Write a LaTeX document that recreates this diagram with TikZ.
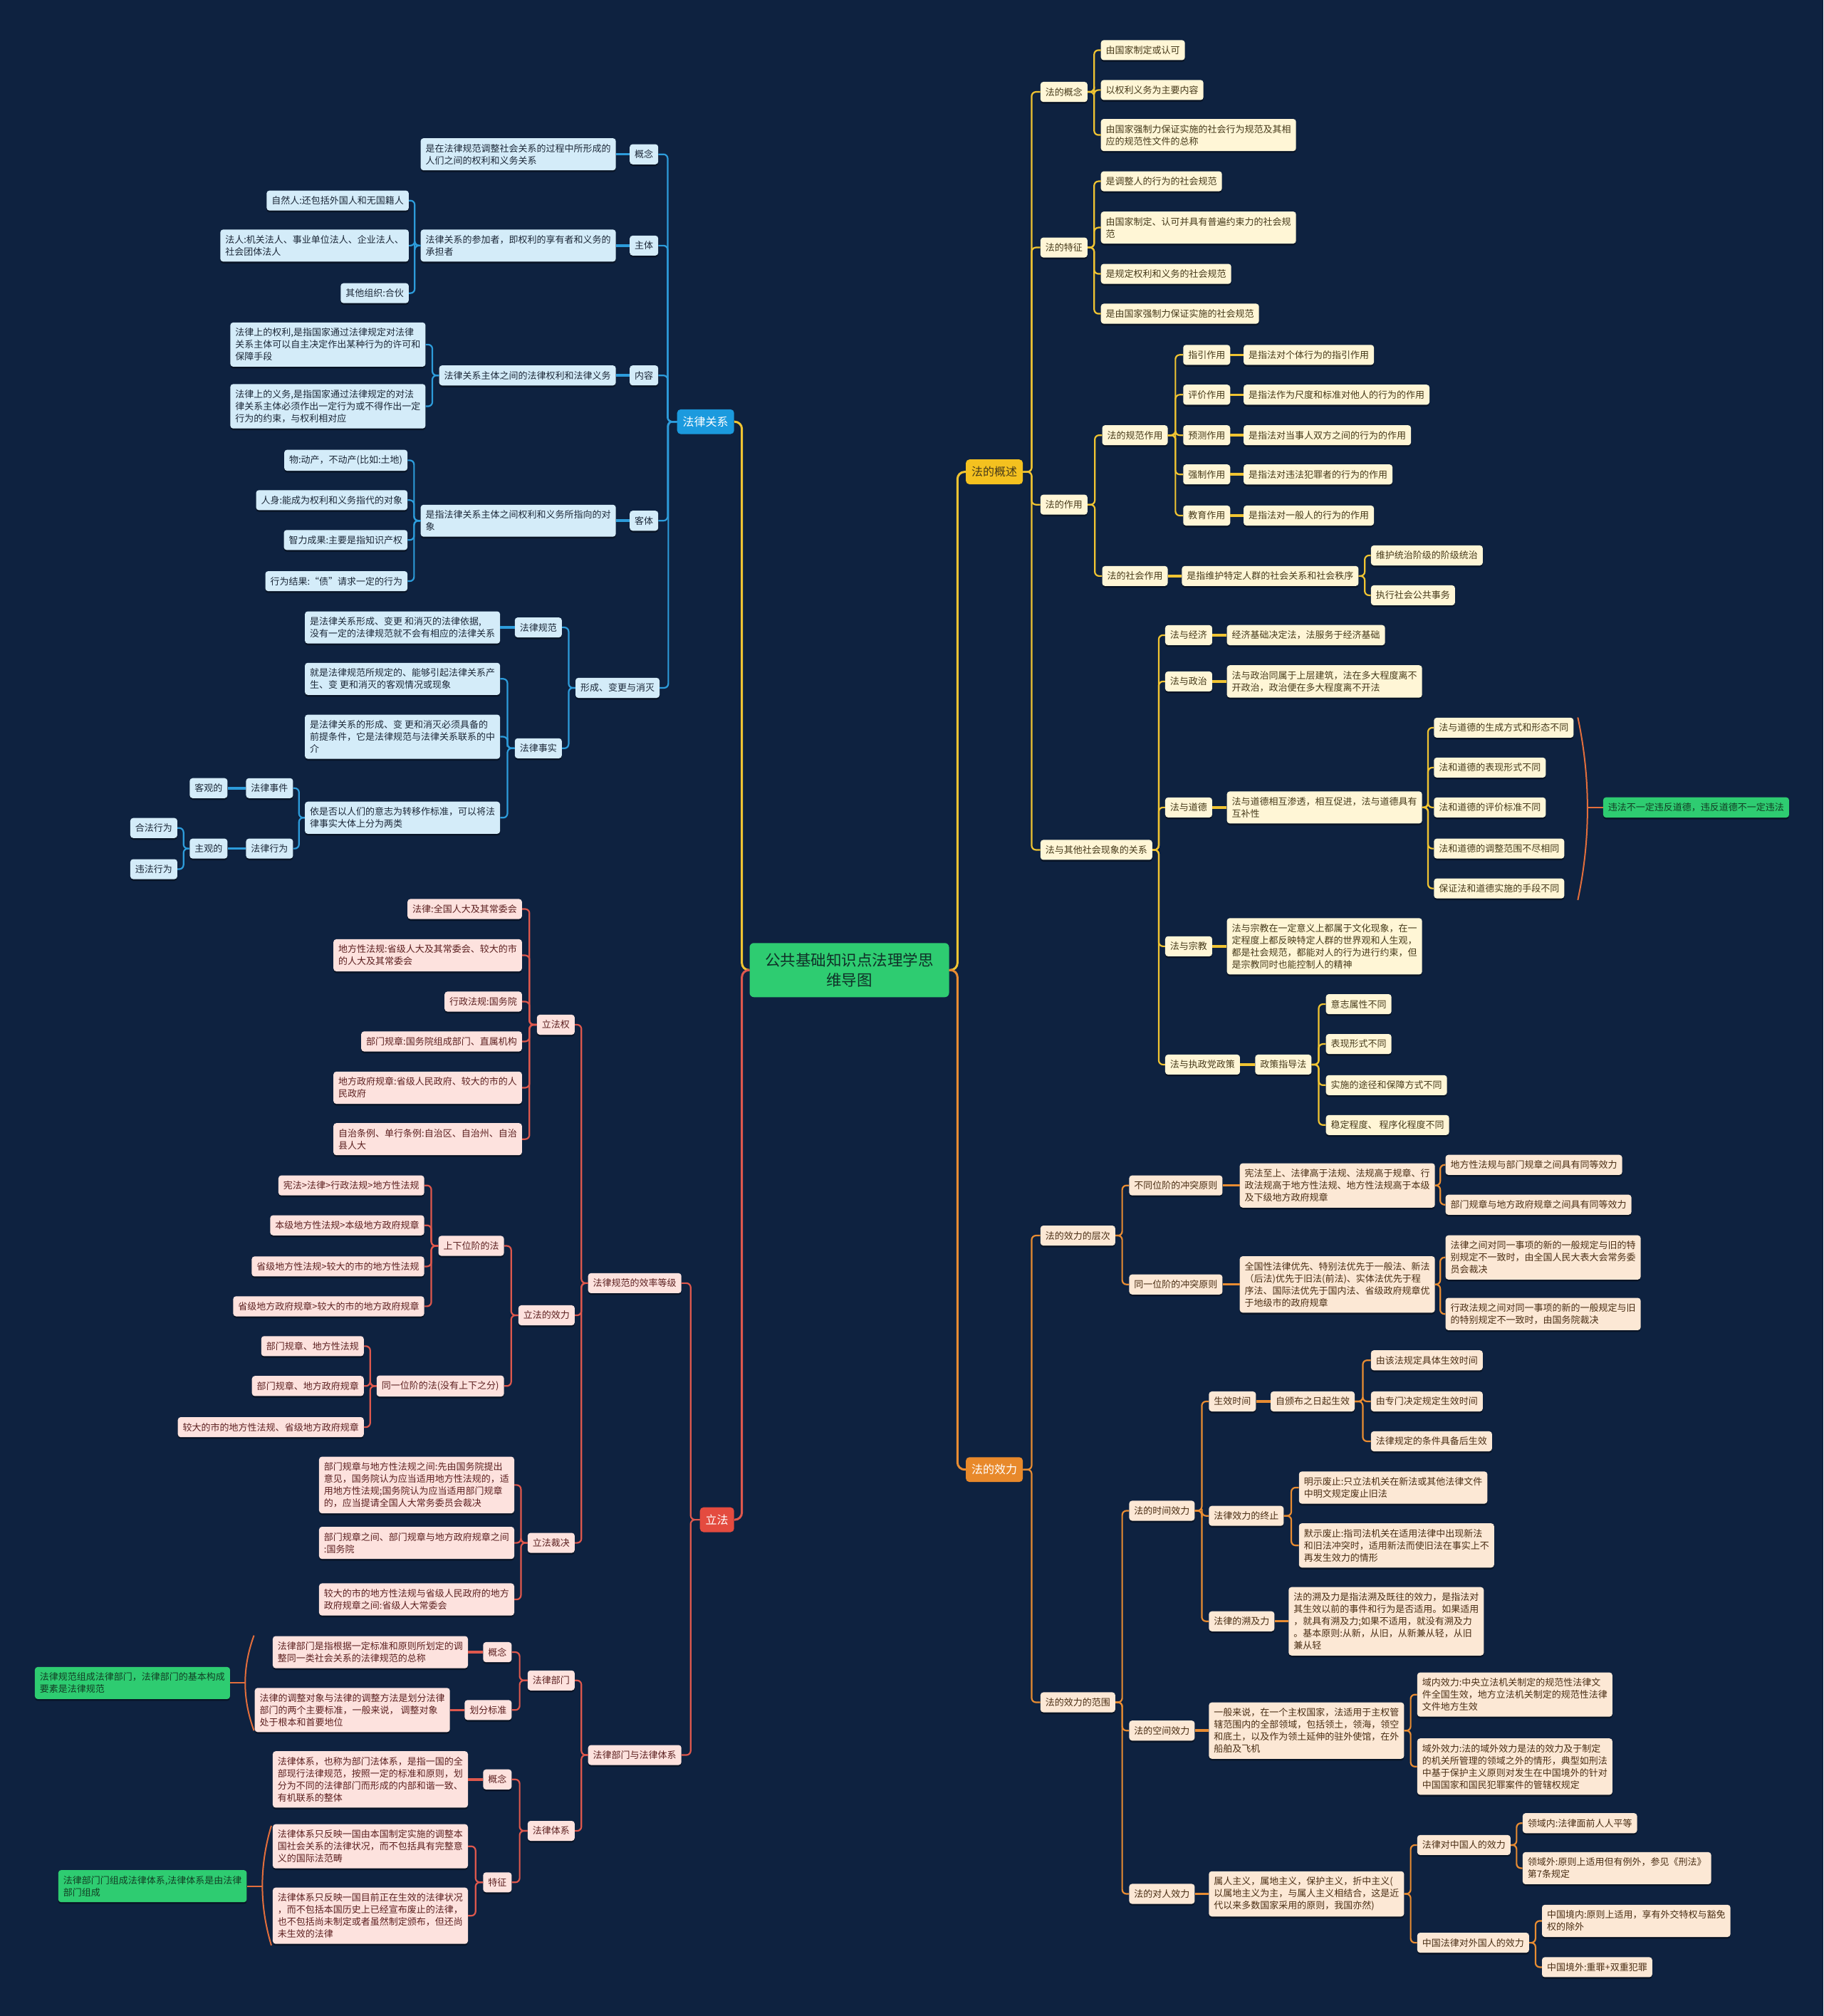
\documentclass[tikz,border=0pt]{standalone}
\usepackage{fontspec}
\setmainfont{Noto Sans CJK SC}
\usetikzlibrary{calc,shadows}

\definecolor{navy}{RGB}{14,34,64}
\definecolor{rootfill}{RGB}{46,204,113}
\definecolor{roottext}{RGB}{16,48,40}
\definecolor{bluemain}{RGB}{27,154,222}
\definecolor{blueline}{RGB}{45,156,219}
\definecolor{bluefill}{RGB}{212,236,249}
\definecolor{bluetext}{RGB}{28,40,56}
\definecolor{goldmain}{RGB}{244,193,31}
\definecolor{goldline}{RGB}{240,196,50}
\definecolor{goldfill}{RGB}{255,246,214}
\definecolor{goldtext}{RGB}{70,58,26}
\definecolor{redmain}{RGB}{228,75,63}
\definecolor{redline}{RGB}{222,88,77}
\definecolor{redfill}{RGB}{253,226,222}
\definecolor{redtext}{RGB}{92,32,32}
\definecolor{orgmain}{RGB}{232,137,43}
\definecolor{orgline}{RGB}{232,140,50}
\definecolor{orgfill}{RGB}{252,232,213}
\definecolor{orgtext}{RGB}{74,46,20}
\definecolor{notetext}{RGB}{18,62,36}
\definecolor{arcline}{RGB}{226,110,60}

\tikzset{
  box/.style={rounded corners=4pt, inner xsep=7pt, inner ysep=8pt, align=left,
    font=\fontsize{13pt}{17pt}\selectfont,
    drop shadow={shadow xshift=0pt, shadow yshift=-2.5pt, fill=black, opacity=.4}},
  bbox/.style={box, fill=bluefill, text=bluetext},
  ybox/.style={box, fill=goldfill, text=goldtext},
  rbox/.style={box, fill=redfill, text=redtext},
  obox/.style={box, fill=orgfill, text=orgtext},
  note/.style={box, fill=rootfill, text=notetext},
  branch/.style={rounded corners=5pt, inner xsep=8pt, inner ysep=10pt,
    font=\fontsize{16pt}{20pt}\selectfont},
  root/.style={rounded corners=6pt, fill=rootfill, text=roottext, align=center,
    minimum width=280pt, inner ysep=14pt, font=\fontsize{21.5pt}{28pt}\selectfont},
  fork/.style={to path={(\tikztostart) -| ($(\tikztostart)!.5!(\tikztotarget)$) |- (\tikztotarget)}},
  trunk/.style={line width=3pt, rounded corners=10pt},
  wire/.style={line width=2.2pt, rounded corners=6pt},
  stub/.style={line width=3.5pt},
  summary/.style={arcline, line width=2pt}
}

\begin{document}
\begin{tikzpicture}[x=1.8054pt, y=-1.8054pt]
  \useasboundingbox (0,0) rectangle (1418,1568);
  \fill[navy] (0,0) rectangle (1418,1568);

  % centre and the four branches
  \node[root] (root) at (660.5,754.5) {公共基础知识点法理学思\\维导图};
  \node[branch, fill=goldmain, text=goldtext, anchor=west] (gaishu) at (751,367) {法的概述};
  \node[branch, fill=orgmain, text=white, anchor=west] (xiaoli) at (751,1143) {法的效力};
  \node[branch, fill=bluemain, text=white, anchor=east] (guanxi) at (571,328) {法律关系};
  \node[branch, fill=redmain, text=white, anchor=east] (lifa) at (571,1182) {立法};

  % ---------- 法的概述 ----------
  \node[ybox, anchor=west] (gn) at (809,71.5) {法的概念};
  \node[ybox, anchor=west] (gn1) at (856,39) {由国家制定或认可};
  \node[ybox, anchor=west] (gn2) at (856,70) {以权利义务为主要内容};
  \node[ybox, anchor=west] (gn3) at (856,105) {由国家强制力保证实施的社会行为规范及其相\\应的规范性文件的总称};
  \node[ybox, anchor=west] (tz) at (809,192.5) {法的特征};
  \node[ybox, anchor=west] (tz1) at (856,141) {是调整人的行为的社会规范};
  \node[ybox, anchor=west] (tz2) at (856,177) {由国家制定、认可并具有普遍约束力的社会规\\范};
  \node[ybox, anchor=west] (tz3) at (856,213) {是规定权利和义务的社会规范};
  \node[ybox, anchor=west] (tz4) at (856,244) {是由国家强制力保证实施的社会规范};
  \node[ybox, anchor=west] (zy) at (809,392.5) {法的作用};
  \node[ybox, anchor=west] (gf) at (857,338.5) {法的规范作用};
  \node[ybox, anchor=west] (gf1) at (920,276) {指引作用};
  \node[ybox, anchor=west] (gf2) at (920,307) {评价作用};
  \node[ybox, anchor=west] (gf3) at (920,338.5) {预测作用};
  \node[ybox, anchor=west] (gf4) at (920,369) {强制作用};
  \node[ybox, anchor=west] (gf5) at (920,401) {教育作用};
  \node[ybox, anchor=west] (gf1d) at (967,276) {是指法对个体行为的指引作用};
  \node[ybox, anchor=west] (gf2d) at (967,307) {是指法作为尺度和标准对他人的行为的作用};
  \node[ybox, anchor=west] (gf3d) at (967,338.5) {是指法对当事人双方之间的行为的作用};
  \node[ybox, anchor=west] (gf4d) at (967,369) {是指法对违法犯罪者的行为的作用};
  \node[ybox, anchor=west] (gf5d) at (967,401) {是指法对一般人的行为的作用};
  \node[ybox, anchor=west] (sh) at (857,448) {法的社会作用};
  \node[ybox, anchor=west] (shd) at (919,448) {是指维护特定人群的社会关系和社会秩序};
  \node[ybox, anchor=west] (sh1) at (1066,432) {维护统治阶级的阶级统治};
  \node[ybox, anchor=west] (sh2) at (1066,463) {执行社会公共事务};
  \node[ybox, anchor=west] (qt) at (809,661) {法与其他社会现象的关系};
  \node[ybox, anchor=west] (jj) at (906,494) {法与经济};
  \node[ybox, anchor=west] (jjd) at (954,494) {经济基础决定法，法服务于经济基础};
  \node[ybox, anchor=west] (zz) at (906,530) {法与政治};
  \node[ybox, anchor=west] (zzd) at (954,530) {法与政治同属于上层建筑，法在多大程度离不\\开政治，政治便在多大程度离不开法};
  \node[ybox, anchor=west] (dd) at (906,628) {法与道德};
  \node[ybox, anchor=west] (ddd) at (954,628) {法与道德相互渗透，相互促进，法与道德具有\\互补性};
  \node[ybox, anchor=west] (dd1) at (1115,566) {法与道德的生成方式和形态不同};
  \node[ybox, anchor=west] (dd2) at (1115,597) {法和道德的表现形式不同};
  \node[ybox, anchor=west] (dd3) at (1115,628) {法和道德的评价标准不同};
  \node[ybox, anchor=west] (dd4) at (1115,660) {法和道德的调整范围不尽相同};
  \node[ybox, anchor=west] (dd5) at (1115,691) {保证法和道德实施的手段不同};
  \node[note, anchor=west] (ddn) at (1246.6,628) {违法不一定违反道德，违反道德不一定违法};
  \node[ybox, anchor=west] (zj) at (906,736) {法与宗教};
  \node[ybox, anchor=west] (zjd) at (954,736) {法与宗教在一定意义上都属于文化现象，在一\\定程度上都反映特定人群的世界观和人生观，\\都是社会规范，都能对人的行为进行约束，但\\是宗教同时也能控制人的精神};
  \node[ybox, anchor=west] (zc) at (906,828) {法与执政党政策};
  \node[ybox, anchor=west] (zcd) at (976,828) {政策指导法};
  \node[ybox, anchor=west] (zc1) at (1031,781) {意志属性不同};
  \node[ybox, anchor=west] (zc2) at (1031,812) {表现形式不同};
  \node[ybox, anchor=west] (zc3) at (1031,844) {实施的途径和保障方式不同};
  \node[ybox, anchor=west] (zc4) at (1031,875) {稳定程度、 程序化程度不同};

  % ---------- 法的效力 ----------
  \node[obox, anchor=west] (cc) at (809,961) {法的效力的层次};
  \node[obox, anchor=west] (bt) at (878,922) {不同位阶的冲突原则};
  \node[obox, anchor=west] (btd) at (964,922) {宪法至上、法律高于法规、法规高于规章、行\\政法规高于地方性法规、地方性法规高于本级\\及下级地方政府规章};
  \node[obox, anchor=west] (bt1) at (1124,906) {地方性法规与部门规章之间具有同等效力};
  \node[obox, anchor=west] (bt2) at (1124,937) {部门规章与地方政府规章之间具有同等效力};
  \node[obox, anchor=west] (ty) at (878,999) {同一位阶的冲突原则};
  \node[obox, anchor=west] (tyd) at (964,999) {全国性法律优先、特别法优先于一般法、新法\\（后法)优先于旧法(前法)、实体法优先于程\\序法、国际法优先于国内法、省级政府规章优\\于地级市的政府规章};
  \node[obox, anchor=west] (ty1) at (1124,978) {法律之间对同一事项的新的一般规定与旧的特\\别规定不一致时，由全国人民大表大会常务委\\员会裁决};
  \node[obox, anchor=west] (ty2) at (1124,1022) {行政法规之间对同一事项的新的一般规定与旧\\的特别规定不一致时，由国务院裁决};
  \node[obox, anchor=west] (fw) at (809,1324) {法的效力的范围};
  \node[obox, anchor=west] (sj) at (878,1175) {法的时间效力};
  \node[obox, anchor=west] (sx) at (940,1090) {生效时间};
  \node[obox, anchor=west] (sxd) at (988,1090) {自颁布之日起生效};
  \node[obox, anchor=west] (sx1) at (1066,1058) {由该法规定具体生效时间};
  \node[obox, anchor=west] (sx2) at (1066,1090) {由专门决定规定生效时间};
  \node[obox, anchor=west] (sx3) at (1066,1121) {法律规定的条件具备后生效};
  \node[obox, anchor=west] (zh) at (940,1179) {法律效力的终止};
  \node[obox, anchor=west] (zh1) at (1010,1157) {明示废止:只立法机关在新法或其他法律文件\\中明文规定废止旧法};
  \node[obox, anchor=west] (zh2) at (1010,1202) {默示废止:指司法机关在适用法律中出现新法\\和旧法冲突时，适用新法而使旧法在事实上不\\再发生效力的情形};
  \node[obox, anchor=west] (sq) at (940,1261) {法律的溯及力};
  \node[obox, anchor=west] (sqd) at (1002,1261) {法的溯及力是指法溯及既往的效力，是指法对\\其生效以前的事件和行为是否适用。如果适用\\，就具有溯及力;如果不适用，就没有溯及力\\。基本原则:从新，从旧，从新兼从轻，从旧\\兼从轻};
  \node[obox, anchor=west] (kj) at (878,1346) {法的空间效力};
  \node[obox, anchor=west] (kjd) at (940,1346) {一般来说，在一个主权国家，法适用于主权管\\辖范围内的全部领域，包括领土，领海，领空\\和底土，以及作为领土延伸的驻外使馆，在外\\船舶及飞机};
  \node[obox, anchor=west] (kj1) at (1102,1318) {域内效力:中央立法机关制定的规范性法律文\\件全国生效，地方立法机关制定的规范性法律\\文件地方生效};
  \node[obox, anchor=west] (kj2) at (1102,1374) {域外效力:法的域外效力是法的效力及于制定\\的机关所管理的领域之外的情形，典型如刑法\\中基于保护主义原则对发生在中国境外的针对\\中国国家和国民犯罪案件的管辖权规定};
  \node[obox, anchor=west] (dr) at (878,1473) {法的对人效力};
  \node[obox, anchor=west] (drd) at (940,1473) {属人主义，属地主义，保护主义，折中主义(\\以属地主义为主，与属人主义相结合，这是近\\代以来多数国家采用的原则，我国亦然)};
  \node[obox, anchor=west] (zg) at (1102,1435) {法律对中国人的效力};
  \node[obox, anchor=west] (zg1) at (1184,1418) {领域内:法律面前人人平等};
  \node[obox, anchor=west] (zg2) at (1184,1453) {领域外:原则上适用但有例外，参见《刑法》\\第7条规定};
  \node[obox, anchor=west] (wg) at (1102,1511) {中国法律对外国人的效力};
  \node[obox, anchor=west] (wg1) at (1199,1494) {中国境内:原则上适用，享有外交特权与豁免\\权的除外};
  \node[obox, anchor=west] (wg2) at (1199,1530) {中国境外:重罪+双重犯罪};

  % ---------- 法律关系 ----------
  \node[bbox, anchor=east] (gnb) at (512,120) {概念};
  \node[bbox, anchor=east] (gnbd) at (479,120) {是在法律规范调整社会关系的过程中所形成的\\人们之间的权利和义务关系};
  \node[bbox, anchor=east] (zt) at (512,191) {主体};
  \node[bbox, anchor=east] (ztd) at (479,191) {法律关系的参加者，即权利的享有者和义务的\\承担者};
  \node[bbox, anchor=east] (zt1) at (318,156) {自然人:还包括外国人和无国籍人};
  \node[bbox, anchor=east] (zt2) at (318,191) {法人:机关法人、事业单位法人、企业法人、\\社会团体法人};
  \node[bbox, anchor=east] (zt3) at (318,228) {其他组织:合伙};
  \node[bbox, anchor=east] (nr) at (512,292) {内容};
  \node[bbox, anchor=east] (nrd) at (479,292) {法律关系主体之间的法律权利和法律义务};
  \node[bbox, anchor=east] (nr1) at (331,268) {法律上的权利,是指国家通过法律规定对法律\\关系主体可以自主决定作出某种行为的许可和\\保障手段};
  \node[bbox, anchor=east] (nr2) at (331,316) {法律上的义务,是指国家通过法律规定的对法\\律关系主体必须作出一定行为或不得作出一定\\行为的约束，与权利相对应};
  \node[bbox, anchor=east] (kt) at (512,405) {客体};
  \node[bbox, anchor=east] (ktd) at (479,405) {是指法律关系主体之间权利和义务所指向的对\\象};
  \node[bbox, anchor=east] (kt1) at (317,358) {物:动产，不动产(比如:土地)};
  \node[bbox, anchor=east] (kt2) at (317,389) {人身:能成为权利和义务指代的对象};
  \node[bbox, anchor=east] (kt3) at (317,420) {智力成果:主要是指知识产权};
  \node[bbox, anchor=east] (kt4) at (317,452) {行为结果:“债”请求一定的行为};
  \node[bbox, anchor=east] (xc) at (513,535) {形成、变更与消灭};
  \node[bbox, anchor=east] (gz) at (437,488) {法律规范};
  \node[bbox, anchor=east] (gzd) at (389,488) {是法律关系形成、变更 和消灭的法律依据,\\没有一定的法律规范就不会有相应的法律关系};
  \node[bbox, anchor=east] (ss) at (437,582) {法律事实};
  \node[bbox, anchor=east] (ss1) at (389,528) {就是法律规范所规定的、能够引起法律关系产\\生、变 更和消灭的客观情况或现象};
  \node[bbox, anchor=east] (ss2) at (389,573) {是法律关系的形成、变 更和消灭必须具备的\\前提条件，它是法律规范与法律关系联系的中\\介};
  \node[bbox, anchor=east] (ss3) at (389,636) {依是否以人们的意志为转移作标准，可以将法\\律事实大体上分为两类};
  \node[bbox, anchor=east] (sjian) at (228,613) {法律事件};
  \node[bbox, anchor=east] (kg) at (177,613) {客观的};
  \node[bbox, anchor=east] (xw) at (228,660) {法律行为};
  \node[bbox, anchor=east] (zg0) at (177,660) {主观的};
  \node[bbox, anchor=east] (hf) at (138,644) {合法行为};
  \node[bbox, anchor=east] (wf) at (138,676) {违法行为};

  % ---------- 立法 ----------
  \node[rbox, anchor=east] (dj) at (530,998) {法律规范的效率等级};
  \node[rbox, anchor=east] (lq) at (447,797) {立法权};
  \node[rbox, anchor=east] (lq1) at (406,707) {法律:全国人大及其常委会};
  \node[rbox, anchor=east] (lq2) at (406,743) {地方性法规:省级人大及其常委会、较大的市\\的人大及其常委会};
  \node[rbox, anchor=east] (lq3) at (406,779) {行政法规:国务院};
  \node[rbox, anchor=east] (lq4) at (406,810) {部门规章:国务院组成部门、直属机构};
  \node[rbox, anchor=east] (lq5) at (406,846) {地方政府规章:省级人民政府、较大的市的人\\民政府};
  \node[rbox, anchor=east] (lq6) at (406,886) {自治条例、单行条例:自治区、自治州、自治\\县人大};
  \node[rbox, anchor=east] (lx) at (447,1023) {立法的效力};
  \node[rbox, anchor=east] (sxw) at (392,969) {上下位阶的法};
  \node[rbox, anchor=east] (sxw1) at (330,922) {宪法>法律>行政法规>地方性法规};
  \node[rbox, anchor=east] (sxw2) at (330,953) {本级地方性法规>本级地方政府规章};
  \node[rbox, anchor=east] (sxw3) at (330,985) {省级地方性法规>较大的市的地方性法规};
  \node[rbox, anchor=east] (sxw4) at (330,1016) {省级地方政府规章>较大的市的地方政府规章};
  \node[rbox, anchor=east] (tyw) at (392,1078) {同一位阶的法(没有上下之分)};
  \node[rbox, anchor=east] (tyw1) at (283,1047) {部门规章、地方性法规};
  \node[rbox, anchor=east] (tyw2) at (283,1078) {部门规章、地方政府规章};
  \node[rbox, anchor=east] (tyw3) at (283,1110) {较大的市的地方性法规、省级地方政府规章};
  \node[rbox, anchor=east] (cj) at (447,1200) {立法裁决};
  \node[rbox, anchor=east] (cj1) at (400,1155) {部门规章与地方性法规之间:先由国务院提出\\意见，国务院认为应当适用地方性法规的，适\\用地方性法规;国务院认为应当适用部门规章\\的，应当提请全国人大常务委员会裁决};
  \node[rbox, anchor=east] (cj2) at (400,1200) {部门规章之间、部门规章与地方政府规章之间\\:国务院};
  \node[rbox, anchor=east] (cj3) at (400,1244) {较大的市的地方性法规与省级人民政府的地方\\政府规章之间:省级人大常委会};
  \node[rbox, anchor=east] (ti) at (530,1365) {法律部门与法律体系};
  \node[rbox, anchor=east] (bm) at (447,1307) {法律部门};
  \node[rbox, anchor=east] (bmg) at (398,1285) {概念};
  \node[rbox, anchor=east] (bmgd) at (364,1285) {法律部门是指根据一定标准和原则所划定的调\\整同一类社会关系的法律规范的总称};
  \node[rbox, anchor=east] (bmh) at (398,1330) {划分标准};
  \node[rbox, anchor=east] (bmhd) at (350,1330) {法律的调整对象与法律的调整方法是划分法律\\部门的两个主要标准，一般来说， 调整对象\\处于根本和首要地位};
  \node[note, anchor=east] (bmn) at (179,1309) {法律规范组成法律部门，法律部门的基本构成\\要素是法律规范};
  \node[rbox, anchor=east] (tx) at (447,1424) {法律体系};
  \node[rbox, anchor=east] (txg) at (398,1384) {概念};
  \node[rbox, anchor=east] (txgd) at (364,1384) {法律体系，也称为部门法体系，是指一国的全\\部现行法律规范，按照一定的标准和原则，划\\分为不同的法律部门而形成的内部和谐一致、\\ 有机联系的整体};
  \node[rbox, anchor=east] (txt) at (398,1464) {特征};
  \node[rbox, anchor=east] (txt1) at (364,1436) {法律体系只反映一国由本国制定实施的调整本\\国社会关系的法律状况，而不包括具有完整意\\义的国际法范畴};
  \node[rbox, anchor=east] (txt2) at (364,1490) {法律体系只反映一国目前正在生效的法律状况\\，而不包括本国历史上已经宣布废止的法律，\\也不包括尚未制定或者虽然制定颁布，但还尚\\未生效的法律};
  \node[note, anchor=east] (txn) at (192,1467) {法律部门门组成法律体系,法律体系是由法律\\部门组成};

  % trunk
  \draw[trunk, goldline, fork] (root.east) to (gaishu.west);
  \draw[trunk, orgline, fork] (root.east) to (xiaoli.west);
  \draw[trunk, goldline, fork] (root.west) to (guanxi.east);
  \draw[trunk, redline, fork] (root.west) to (lifa.east);

  % 法的概述 links
  \foreach \p/\c in {gaishu/gn, gaishu/tz, gaishu/zy, gaishu/qt,
      gn/gn1, gn/gn2, gn/gn3, tz/tz1, tz/tz2, tz/tz3, tz/tz4,
      zy/gf, zy/sh, gf/gf1, gf/gf2, gf/gf3, gf/gf4, gf/gf5, shd/sh1, shd/sh2,
      qt/jj, qt/zz, qt/dd, qt/zj, qt/zc,
      ddd/dd1, ddd/dd2, ddd/dd3, ddd/dd4, ddd/dd5,
      zcd/zc1, zcd/zc2, zcd/zc3, zcd/zc4}
    \draw[wire, goldline, fork] (\p.east) to (\c.west);
  \foreach \p/\c in {gf1/gf1d, gf2/gf2d, gf3/gf3d, gf4/gf4d, gf5/gf5d, sh/shd,
      jj/jjd, zz/zzd, dd/ddd, zj/zjd, zc/zcd}
    \draw[stub, goldline] (\p.east) -- (\c.west);

  % 法的效力 links
  \foreach \p/\c in {xiaoli/cc, xiaoli/fw, cc/bt, cc/ty, btd/bt1, btd/bt2, tyd/ty1, tyd/ty2,
      fw/sj, fw/kj, fw/dr, sj/sx, sj/zh, sj/sq, sxd/sx1, sxd/sx2, sxd/sx3,
      zh/zh1, zh/zh2, kjd/kj1, kjd/kj2, drd/zg, drd/wg, zg/zg1, zg/zg2, wg/wg1, wg/wg2}
    \draw[wire, orgline, fork] (\p.east) to (\c.west);
  \foreach \p/\c in {bt/btd, ty/tyd, sx/sxd, sq/sqd, kj/kjd, dr/drd}
    \draw[stub, orgline] (\p.east) -- (\c.west);

  % 法律关系 links
  \foreach \p/\c in {guanxi/gnb, guanxi/zt, guanxi/nr, guanxi/kt, guanxi/xc,
      ztd/zt1, ztd/zt2, ztd/zt3, nrd/nr1, nrd/nr2,
      ktd/kt1, ktd/kt2, ktd/kt3, ktd/kt4, xc/gz, xc/ss,
      ss/ss1, ss/ss2, ss/ss3, ss3/sjian, ss3/xw, zg0/hf, zg0/wf}
    \draw[wire, blueline, fork] (\p.west) to (\c.east);
  \foreach \p/\c in {gnb/gnbd, zt/ztd, nr/nrd, kt/ktd, gz/gzd, sjian/kg, xw/zg0}
    \draw[stub, blueline] (\p.west) -- (\c.east);

  % 立法 links
  \foreach \p/\c in {lifa/dj, lifa/ti, dj/lq, dj/lx, dj/cj,
      lq/lq1, lq/lq2, lq/lq3, lq/lq4, lq/lq5, lq/lq6, lx/sxw, lx/tyw,
      sxw/sxw1, sxw/sxw2, sxw/sxw3, sxw/sxw4, tyw/tyw1, tyw/tyw2, tyw/tyw3,
      cj/cj1, cj/cj2, cj/cj3, ti/bm, ti/tx, bm/bmg, bm/bmh, tx/txg, tx/txt,
      txt/txt1, txt/txt2}
    \draw[wire, redline, fork] (\p.west) to (\c.east);
  \foreach \p/\c in {bmg/bmgd, bmh/bmhd, txg/txgd}
    \draw[stub, redline] (\p.west) -- (\c.east);

  % summaries
  \coordinate (ddtop) at (1227,558);
  \coordinate (ddbot) at (1227,700);
  \coordinate (ddmid) at (1234.5,628);
  \draw[summary] (ddtop) .. controls (1237,605) and (1237,653) .. (ddbot);
  \draw[summary] (ddmid) -- (ddn.west);
  \coordinate (bmtop) at (197.5,1272);
  \coordinate (bmbot) at (197.5,1346);
  \coordinate (bmmid) at (190.7,1309);
  \draw[summary] (bmtop) .. controls (188.4,1297) and (188.4,1321) .. (bmbot);
  \draw[summary] (bmmid) -- (bmn.east);
  \coordinate (txtop) at (211,1420);
  \coordinate (txbot) at (211,1513);
  \coordinate (txmid) at (204,1467);
  \draw[summary] (txtop) .. controls (201.7,1451) and (201.7,1482) .. (txbot);
  \draw[summary] (txmid) -- (txn.east);
\end{tikzpicture}
\end{document}
